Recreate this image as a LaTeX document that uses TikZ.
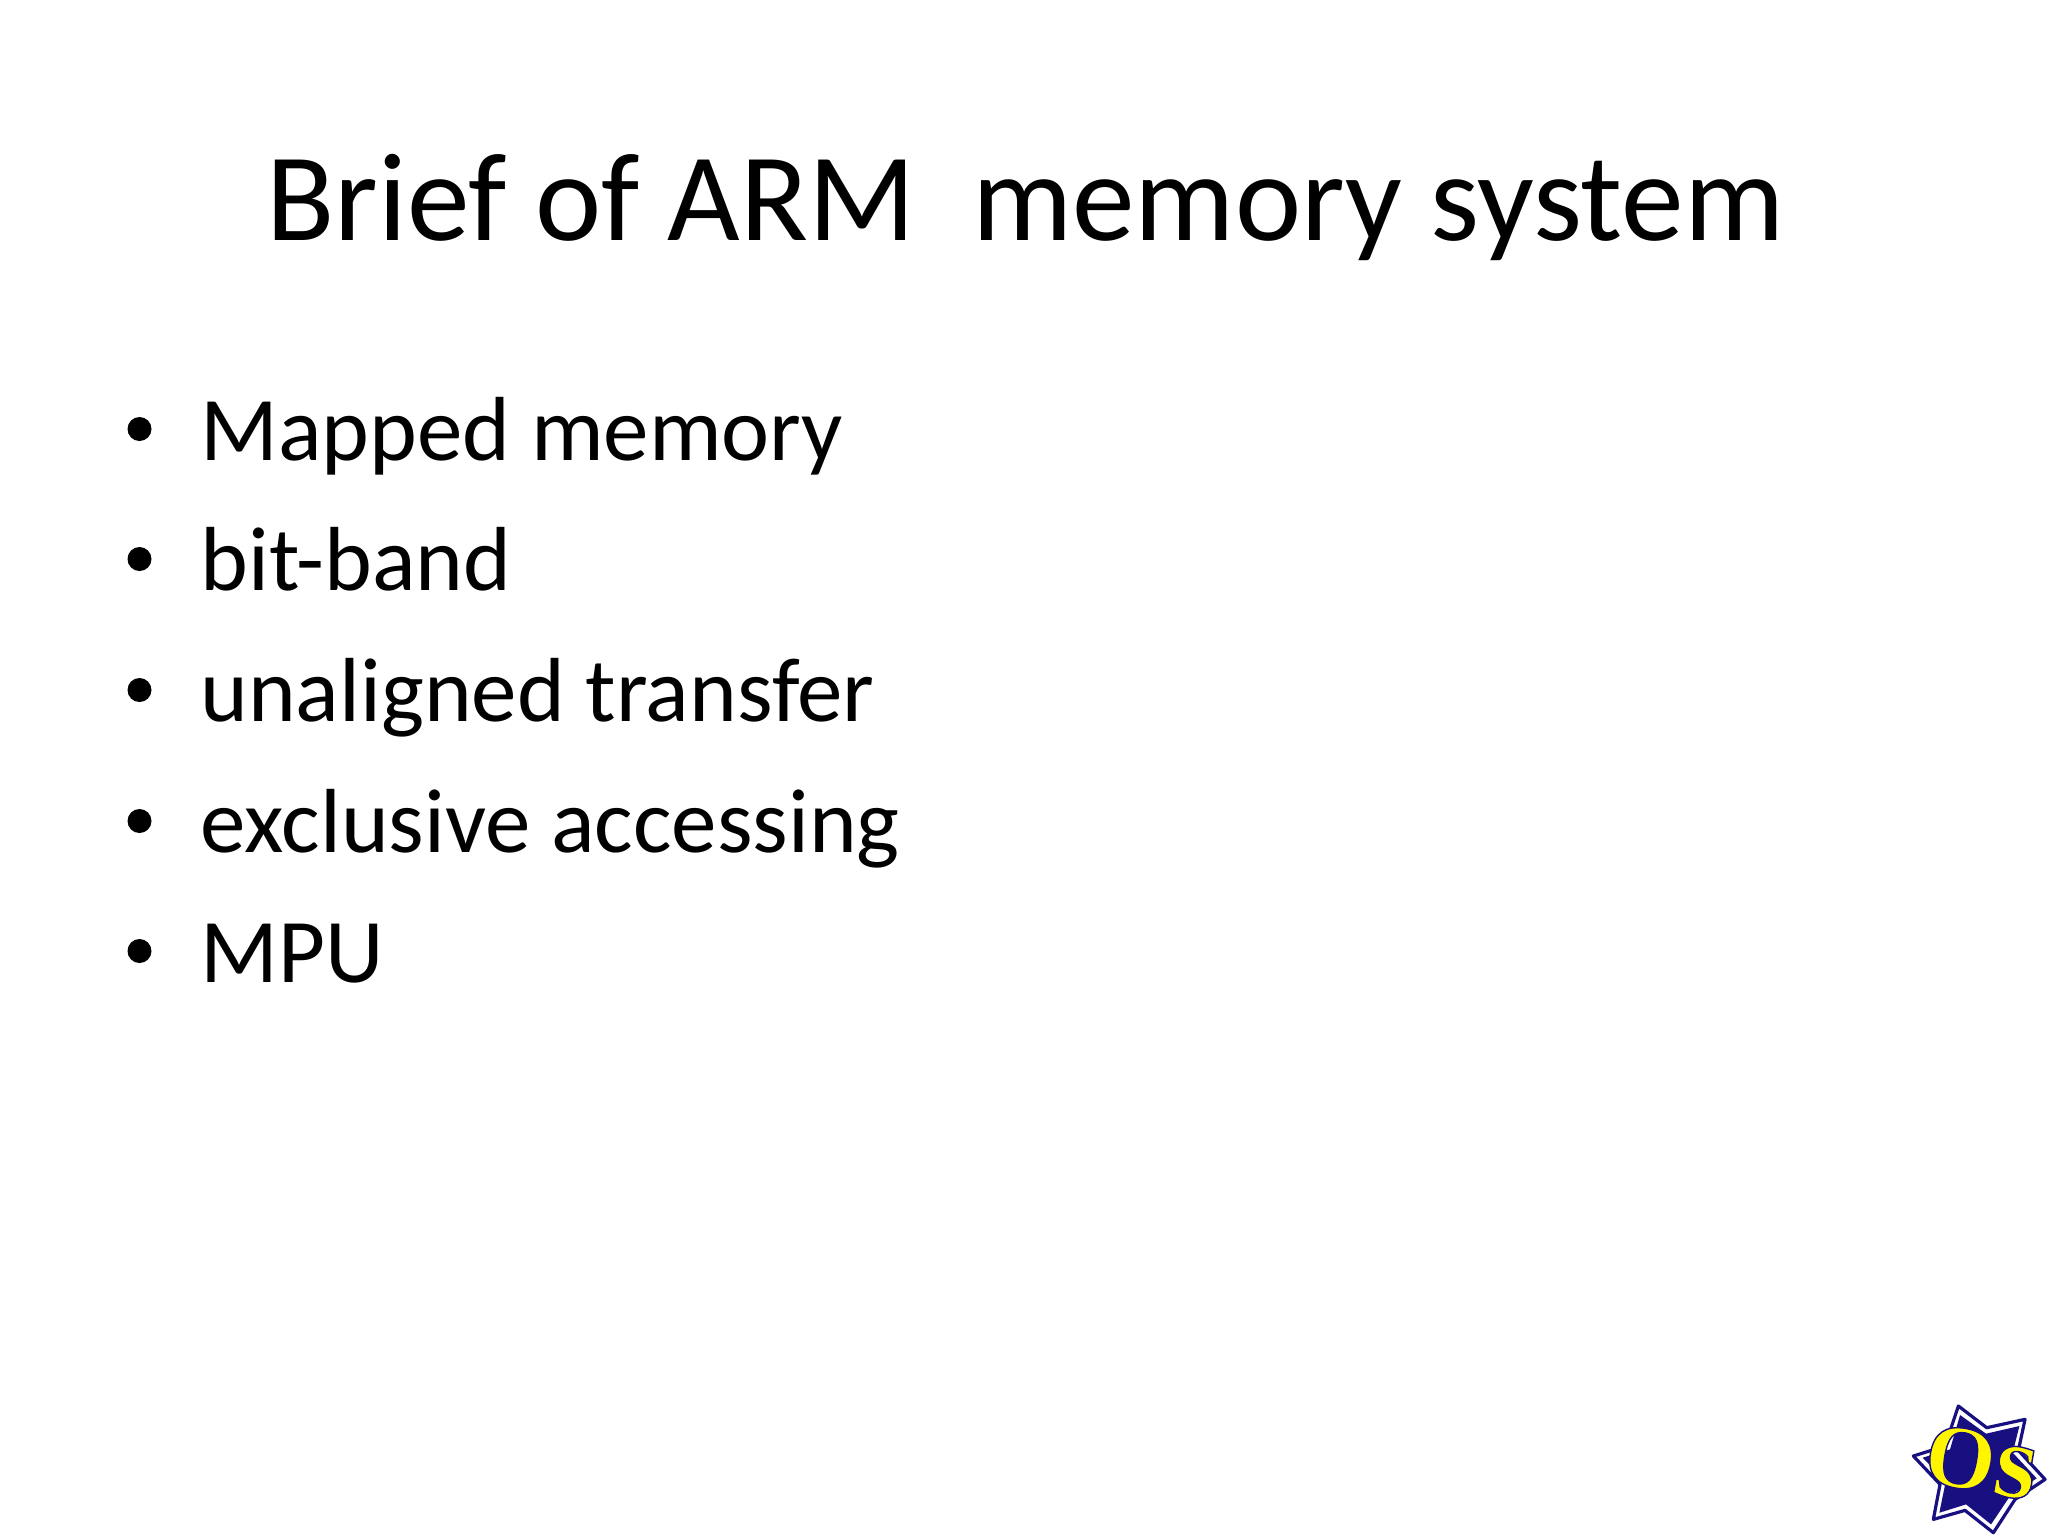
\documentclass[tikz,border=0pt]{standalone}
\usepackage{fontspec}
\setmainfont{Carlito}
\newfontfamily\logofont{Liberation Serif}[Scale=1]
\definecolor{logonavy}{RGB}{24,16,128}
\definecolor{logoyellow}{RGB}{255,245,0}
\tikzset{
  slidetitle/.style={anchor=base west,inner sep=0pt,font=\fontsize{62.7}{70}\selectfont,text=black},
  bodyline/.style={anchor=base west,inner sep=0pt,font=\fontsize{45.5}{52}\selectfont,text=black},
  bulletdot/.style={circle,fill=black,draw=none,minimum size=12pt,inner sep=0pt},
  starouter/.style={draw=logonavy,fill=white,line width=1.6pt,line join=round},
  starinner/.style={fill=logonavy,draw=none,line join=round},
}
\begin{document}
\begin{tikzpicture}[x=0.5pt,y=-0.5pt]
\useasboundingbox (0,0) rectangle (2048,1536);
\fill[white] (0,0) rectangle (2048,1536);
\node[slidetitle] (title) at (266,240) {Brief of ARM\ \ memory system};
\foreach \n/\ty/\txt in {a/460/Mapped memory,b/590/bit-band,c/721/unaligned transfer,d/852/exclusive accessing,e/982/MPU}{
  \node[bodyline] (line\n) at (200,\ty) {\txt};
  \node[bulletdot] (dot\n) at (139.5,\ty-31) {};
}
\begin{scope}[shift={(1890,1391)},x=0.1667pt,y=-0.1667pt]
  \draw[starouter] (205,45) -- (290,110) -- (405,85) -- (385,178) -- (465,265) -- (375,325) -- (310,425) -- (225,358) -- (130,385) -- (150,280) -- (70,195) -- (165,165) -- cycle;
  \fill[starinner] (210,72) -- (288,128) -- (388,105) -- (368,185) -- (440,262) -- (362,312) -- (303,400) -- (228,340) -- (148,365) -- (167,272) -- (98,200) -- (180,175) -- cycle;
  \node[anchor=base west,inner sep=0pt,rotate=-10,text=logoyellow] (logotext) at (92,270) {\special{pdf:code 2 Tr 0.09 0.06 0.5 RG 0.7 w}\logofont\bfseries\fontsize{45}{45}\selectfont O\fontsize{54}{54}\selectfont s\special{pdf:code 0 Tr}};
\end{scope}
\end{tikzpicture}
\end{document}
